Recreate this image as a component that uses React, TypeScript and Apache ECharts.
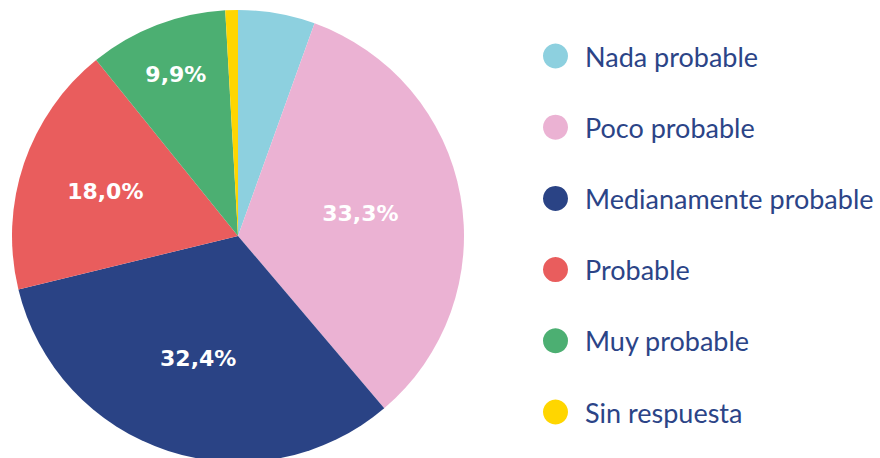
import React, { useEffect, useRef } from "react";
import * as echarts from "echarts";

const categories = [
  "Nada probable",
  "Poco probable",
  "Medianamente probable",
  "Probable",
  "Muy probable",
  "Sin respuesta",
];
const values = [5.5, 33.3, 32.4, 18.0, 9.9, 0.9];
const colors = ["#8dd0df", "#ebb2d3", "#2a4385", "#e95d5d", "#4caf72", "#ffd600"];
const showLabel = [false, true, true, true, true, false];
const labelRadiusRatio = [0.5, 0.55, 0.57, 0.62, 0.765, 0.5];

const CX = 238;
const CY = 236;
const R = 226;

export default function App() {
  const ref = useRef<HTMLDivElement>(null);
  useEffect(() => {
    if (!ref.current) return;
    const chart = echarts.init(ref.current, undefined, { renderer: "svg" });
    const total = values.reduce((a, b) => a + b, 0);
    const mids: number[] = [];
    let acc = 0;
    values.forEach((v) => {
      mids.push(((acc + v / 2) / total) * Math.PI * 2);
      acc += v;
    });
    chart.setOption({
      animation: false,
      legend: {
        orient: "vertical",
        left: 543,
        top: 42.5,
        padding: 0,
        itemWidth: 25,
        itemHeight: 25,
        itemGap: 44.2,
        icon: "circle",
        data: categories,
        textStyle: {
          color: "#2b4487",
          fontSize: 27,
          lineHeight: 25,
          fontFamily: "Lato",
          padding: [0, 0, 0, 12],
        },
      },
      series: [
        {
          type: "pie",
          center: [CX, CY],
          radius: [0, R],
          startAngle: 90,
          clockwise: true,
          avoidLabelOverlap: false,
          label: {
            position: "inside",
            color: "#ffffff",
            fontFamily: "DejaVu Sans",
            fontWeight: "bold",
            fontSize: 22,
            formatter: (p: any) => p.value.toFixed(1).replace(".", ",") + "%",
          },
          labelLine: { show: false },
          labelLayout: (p: any) => {
            const i = p.dataIndex;
            const r = R * labelRadiusRatio[i];
            return {
              x: CX + r * Math.sin(mids[i]),
              y: CY - r * Math.cos(mids[i]),
              align: "center",
              verticalAlign: "middle",
            };
          },
          emphasis: { disabled: true },
          data: categories.map((name, i) => ({
            name,
            value: values[i],
            itemStyle: { color: colors[i] },
            label: { show: showLabel[i] },
          })),
        },
      ],
    });
    return () => chart.dispose();
  }, []);
  return (
    <div
      ref={ref}
      style={{ position: "absolute", left: 0, top: 0, width: 880, height: 458 }}
    />
  );
}
